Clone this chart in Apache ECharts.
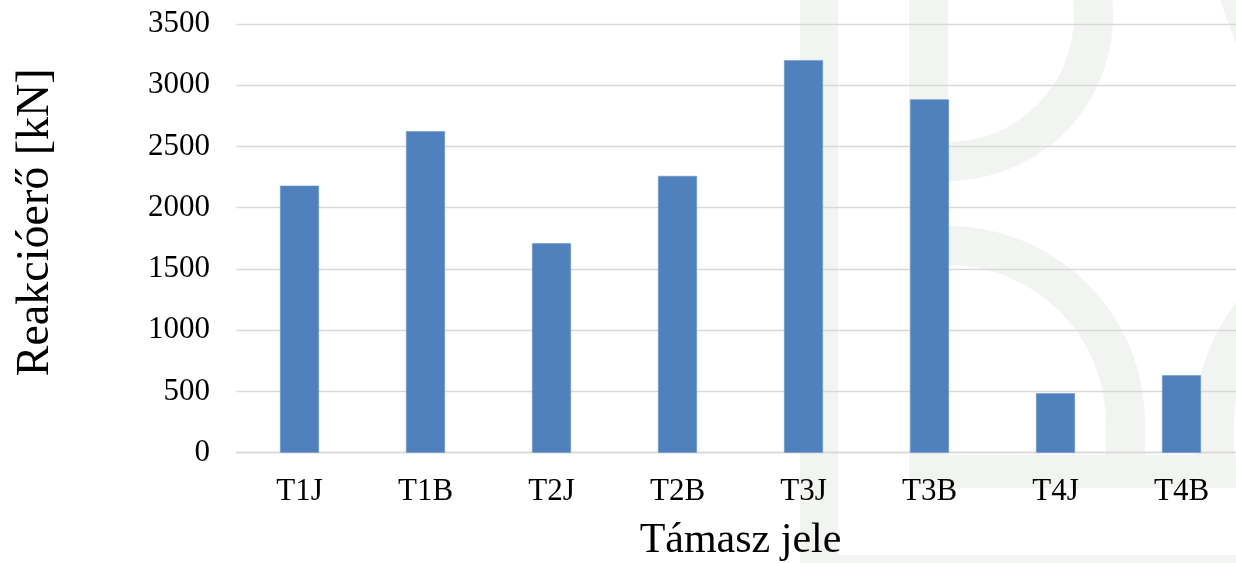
<!DOCTYPE html>
<html>
<head>
<meta charset="utf-8">
<script src="https://cdn.jsdelivr.net/npm/echarts@6/dist/echarts.min.js"></script>
<style>
  html, body { margin: 0; padding: 0; background: #ffffff; }
  #chart { width: 1236px; height: 563px; }
</style>
</head>
<body>
<div id="chart"></div>
<script>
// Support labels and their reaction forces
const categories = ['T1J', 'T1B', 'T2J', 'T2B', 'T3J', 'T3B', 'T4J', 'T4B'];
const reactions = [2180, 2625, 1710, 2260, 3205, 2885, 485, 632];
const yMin = 0;
const yMax = 3500;
const yStep = 500;
const xTitle = 'Támasz jele';
const yTitle = 'Reakcióerő [kN]';

const FONT = '"Liberation Serif", "Times New Roman", serif';
const MARK = '#f2f4f1';

// Faint logo shapes behind the plot
function ring(cx, cy, r0, r, a0, a1) {
  return { type: 'sector', silent: true, z: -10,
    shape: { cx, cy, r0, r, startAngle: a0, endAngle: a1, clockwise: true },
    style: { fill: MARK } };
}
function box(x, y, w, h) {
  return { type: 'rect', silent: true, z: -10,
    shape: { x, y, width: w, height: h }, style: { fill: MARK } };
}
const logo = [
  box(800, 0, 38, 563),
  box(909, 0, 39, 488),
  box(909, 455, 327, 33),
  box(800, 555, 436, 8),
  ring(948, 16, 126, 165, -0.25, Math.PI / 2),
  ring(948, 423, 158, 197, -Math.PI / 2, 0),
  box(1106, 423, 39, 33),
  ring(1392, 423, 158, 197, Math.PI, Math.PI * 1.5),
  box(1195, 423, 39, 33),
  { type: 'polygon', silent: true, z: -10,
    shape: { points: [[1220, 0], [1238, 0], [1254, 46], [1238, 50]] },
    style: { fill: MARK } }
];

const chart = echarts.init(document.getElementById('chart'), null, { renderer: 'canvas' });
chart.setOption({
  backgroundColor: '#ffffff',
  animation: false,
  graphic: { elements: logo },
  // plot runs slightly past the right edge of the canvas
  grid: {
    left: 236.5, top: 24, width: 1008, height: 428.7,
    containLabel: false, outerBoundsMode: 'none'
  },
  xAxis: {
    type: 'category',
    data: categories,
    name: xTitle,
    nameLocation: 'middle',
    nameGap: 67,
    nameTextStyle: { fontFamily: FONT, fontSize: 42, color: '#000' },
    axisLine: { show: true, lineStyle: { color: '#d9d9d9', width: 1.3 } },
    axisTick: { show: false },
    axisLabel: { fontFamily: FONT, fontSize: 31, color: '#000', margin: 24 }
  },
  yAxis: {
    type: 'value',
    min: yMin,
    max: yMax,
    interval: yStep,
    name: yTitle,
    nameLocation: 'middle',
    nameRotate: 90,
    nameGap: 178,
    nameTextStyle: { fontFamily: FONT, fontSize: 46, color: '#000', padding: [0, 0, 0, 32] },
    axisLine: { show: false },
    axisTick: { show: false },
    axisLabel: {
      fontFamily: FONT, fontSize: 31, color: '#000', margin: 26.5,
      formatter: (v) => String(v)
    },
    splitLine: { lineStyle: { color: '#d9d9d9', width: 1.3 } }
  },
  series: [{
    type: 'bar',
    data: reactions,
    barWidth: 39,
    itemStyle: { color: '#4f81bd', borderColor: '#6f97c9', borderWidth: 0.6 }
  }]
});
</script>
</body>
</html>
